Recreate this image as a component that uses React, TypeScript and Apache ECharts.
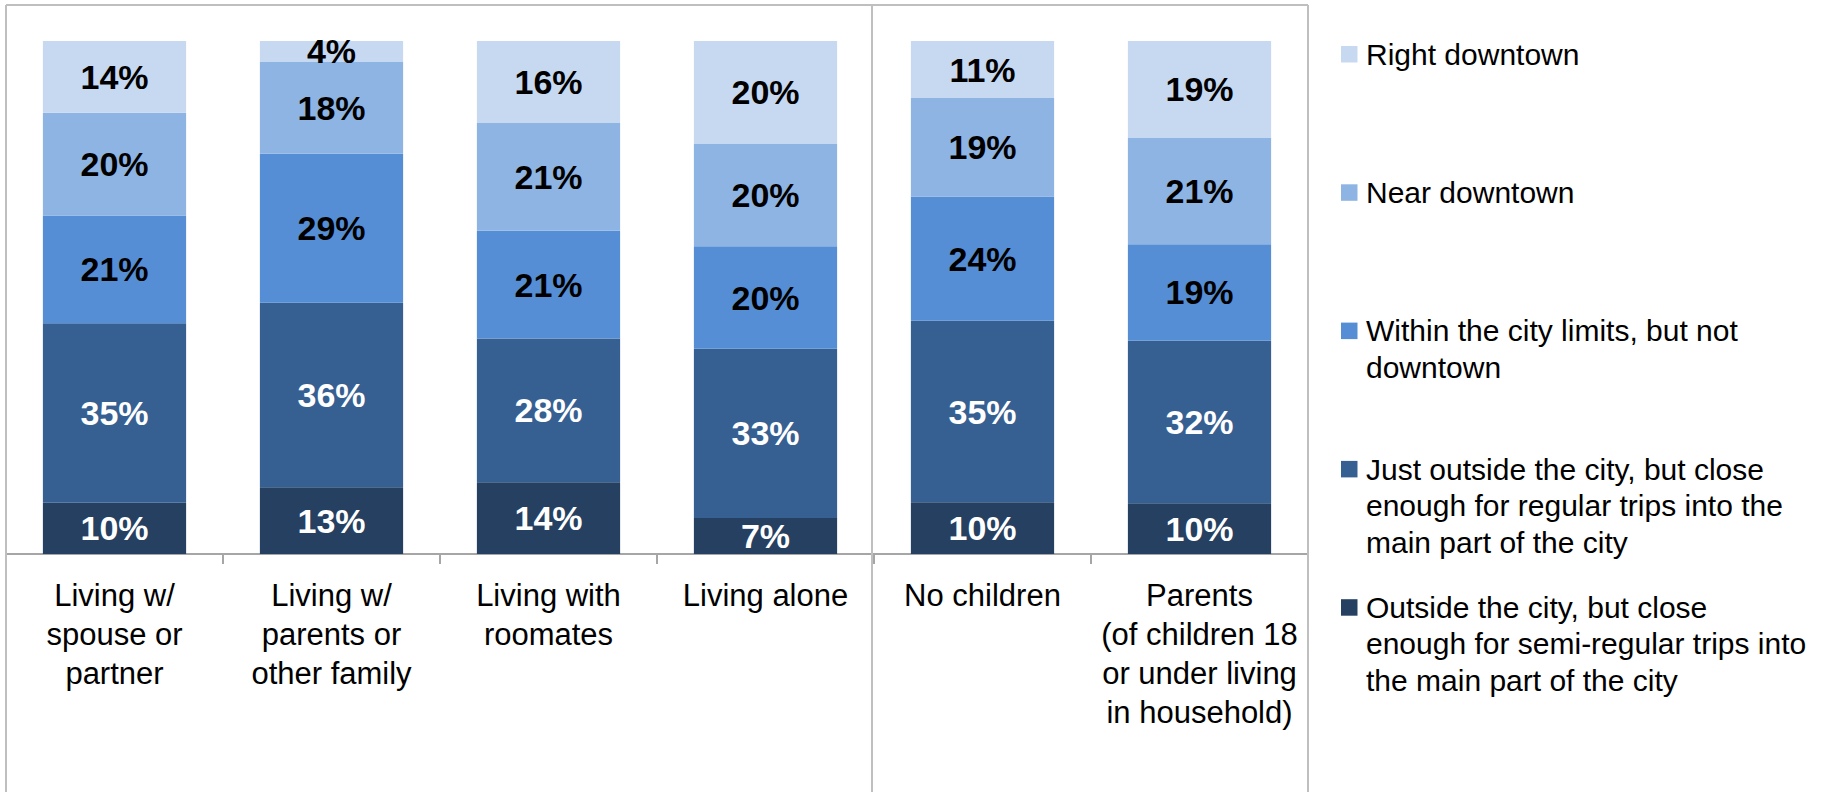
import React, { useEffect, useRef } from "react";
import * as echarts from "echarts";

const categories = [
  "Living w/\nspouse or\npartner",
  "Living w/\nparents or\nother family",
  "Living with\nroomates",
  "Living alone",
  "No children",
  "Parents\n(of children 18\nor under living\nin household)",
];

const seriesNames = [
  "Outside the city, but close enough for semi-regular trips into the main part of the city",
  "Just outside the city, but close enough for regular trips into the main part of the city",
  "Within the city limits, but not downtown",
  "Near downtown",
  "Right downtown",
];

const legendLines = [
  ["Right downtown"],
  ["Near downtown"],
  ["Within the city limits, but not", "downtown"],
  ["Just outside the city, but close", "enough for regular trips into the", "main part of the city"],
  ["Outside the city, but close", "enough for semi-regular trips into", "the main part of the city"],
];

const outside = [10, 13, 14, 7, 10, 10];
const justOutside = [35, 36, 28, 33, 35, 32];
const withinCity = [21, 29, 21, 20, 24, 19];
const nearDowntown = [20, 18, 21, 20, 19, 21];
const rightDowntown = [14, 4, 16, 20, 11, 19];

const colors = ["#254061", "#376092", "#558ed5", "#8eb4e3", "#c6d9f1"];
const labelColors = ["#ffffff", "#ffffff", "#000000", "#000000", "#000000"];

const FONT = "'Liberation Sans', Arial, sans-serif";

export default function App() {
  const ref = useRef<HTMLDivElement>(null);

  useEffect(() => {
    if (!ref.current) return;
    const chart = echarts.init(ref.current, undefined, { renderer: "svg" });
    const raw = [outside, justOutside, withinCity, nearDowntown, rightDowntown];
    const totals = categories.map((_, i) => raw.reduce((s, arr) => s + arr[i], 0));

    const gridLeft = 6;
    const gridRight = 1308;
    const gridTop = 41;
    const axisY = 554;
    const frameColor = "#bfbfbf";

    const series = raw.map((arr, si) => ({
      name: seriesNames[si],
      type: "bar",
      stack: "total",
      barWidth: "66%",
      itemStyle: { color: colors[si] },
      label: {
        show: true,
        position: "inside",
        color: labelColors[si],
        fontFamily: FONT,
        fontWeight: "bold",
        fontSize: 34,
        formatter: (p: any) => arr[p.dataIndex] + "%",
      },
      data: arr.map((v, i) => (v / totals[i]) * 100),
    }));

    const legendGraphics: any[] = [];
    const legendX = 1341;
    const legendTop0 = 46;
    const legendStep = 138.3;
    const marker = 16.5;
    const lh = 36.5;
    legendLines.forEach((lines, i) => {
      const top = legendTop0 + i * legendStep;
      const center = top + marker / 2;
      legendGraphics.push({
        type: "rect",
        shape: { x: legendX, y: top, width: marker, height: marker },
        style: { fill: colors[4 - i] },
      });
      legendGraphics.push({
        type: "text",
        x: 1366,
        y: center - lh / 2,
        style: {
          text: lines.join("\n"),
          fontFamily: FONT,
          fontSize: 30,
          lineHeight: lh,
          fill: "#000000",
          verticalAlign: "top",
          align: "left",
        },
      });
    });

    const frame = [
      { type: "line", shape: { x1: gridLeft, y1: 5, x2: gridRight, y2: 5 } },
      { type: "line", shape: { x1: gridLeft, y1: 5, x2: gridLeft, y2: 792 } },
      { type: "line", shape: { x1: gridRight, y1: 5, x2: gridRight, y2: 792 } },
      { type: "line", shape: { x1: 872, y1: 5, x2: 872, y2: 792 } },
    ].map((g) => ({ ...g, style: { stroke: frameColor, lineWidth: 2 }, z: 10 }));

    chart.setOption({
      animation: false,
      backgroundColor: "#ffffff",
      grid: {
        left: gridLeft,
        width: gridRight - gridLeft,
        top: gridTop,
        height: axisY - gridTop,
        containLabel: false,
      },
      xAxis: {
        type: "category",
        data: categories,
        axisLine: { show: true, lineStyle: { color: "#a6a6a6", width: 2 } },
        axisTick: { show: true, length: 10, lineStyle: { color: "#a6a6a6", width: 2 } },
        axisLabel: {
          interval: 0,
          margin: 22,
          color: "#000000",
          fontFamily: FONT,
          fontSize: 31,
          lineHeight: 39,
          align: "center",
        },
      },
      yAxis: {
        type: "value",
        min: 0,
        max: 100,
        show: false,
        splitLine: { show: false },
      },
      series,
      graphic: [...frame, ...legendGraphics],
    });

    return () => chart.dispose();
  }, []);

  return (
    <div
      ref={ref}
      style={{ position: "absolute", left: 0, top: 0, width: 1829, height: 792 }}
    />
  );
}
